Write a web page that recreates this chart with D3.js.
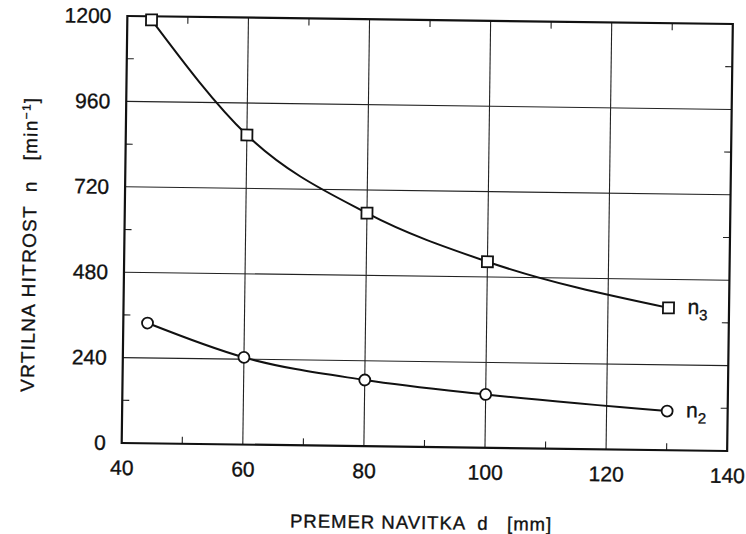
<!DOCTYPE html>
<html>
<head>
<meta charset="utf-8">
<script src="https://cdn.jsdelivr.net/npm/d3@7"></script>
<style>
  body { margin: 0; background: #fff; }
  svg { display: block; }
  text { font-family: 'Liberation Sans', Arial, sans-serif; fill: #111; stroke: #111; stroke-width: 0.35px; }
  .frame { fill: none; stroke: #111; stroke-width: 2.2; }
  .grid line { stroke: #222; stroke-width: 1.1; }
  .curve { fill: none; stroke: #111; stroke-width: 2; }
  .mark { fill: #fff; stroke: #111; stroke-width: 1.8; }
</style>
</head>
<body>
<svg class="chart"></svg>
<script>
const diameters = [44, 60, 80, 100, 130]
const n3 = [1190, 870, 655, 523, 400]
const n2 = [338, 245, 186, 150, 110]
const xTicks = [40, 60, 80, 100, 120, 140]
const xMinor = [50, 70, 90, 110, 130]
const yTicks = [0, 240, 480, 720, 960, 1200]
const yMinor = [120, 360, 600, 840, 1080]

const width = 746
const height = 534
const padding = { top: 20, right: 16, bottom: 87, left: 124.5 }

const svg = d3.select('.chart')
    .attr('width', width)
    .attr('height', height)

// scanned original sits slightly rotated
const root = svg.append('g')
    .attr('transform', 'rotate(0.76, 427, 234)')

const x = d3.scaleLinear()
    .domain([40, 140])
    .range([padding.left, width - padding.right])

const y = d3.scaleLinear()
    .domain([0, 1200])
    .range([height - padding.bottom, padding.top])

const x0 = x.range()[0], x1 = x.range()[1]
const y0 = y.range()[0], y1 = y.range()[1]

// grid lines
const grid = root.append('g').attr('class', 'grid')
grid.selectAll('.gx')
    .data(xTicks.slice(1, -1))
    .enter()
    .append('line')
    .attr('x1', d => x(d)).attr('x2', d => x(d))
    .attr('y1', y1).attr('y2', y0)
grid.selectAll('.gy')
    .data(yTicks.slice(1, -1))
    .enter()
    .append('line')
    .attr('x1', x0).attr('x2', x1)
    .attr('y1', d => y(d)).attr('y2', d => y(d))

// minor ticks inside the frame
const tl = 7
grid.selectAll('.mxb').data(xMinor).enter().append('line')
    .attr('x1', d => x(d)).attr('x2', d => x(d)).attr('y1', y0).attr('y2', y0 - tl)
grid.selectAll('.mxt').data(xMinor).enter().append('line')
    .attr('x1', d => x(d)).attr('x2', d => x(d)).attr('y1', y1).attr('y2', y1 + tl)
grid.selectAll('.myl').data(yMinor).enter().append('line')
    .attr('x1', x0).attr('x2', x0 + tl).attr('y1', d => y(d)).attr('y2', d => y(d))
grid.selectAll('.myr').data(yMinor).enter().append('line')
    .attr('x1', x1).attr('x2', x1 - tl).attr('y1', d => y(d)).attr('y2', d => y(d))

// axes (labels only)
const xAxis = root.append('g')
    .attr('transform', `translate(0, ${y0})`)
    .call(d3.axisBottom(x).tickValues(xTicks).tickSize(0).tickPadding(17).tickFormat(d3.format('d')))
xAxis.select('.domain').remove()

const yAxis = root.append('g')
    .attr('transform', `translate(${x0}, 0)`)
    .call(d3.axisLeft(y).tickValues(yTicks).tickSize(0).tickPadding(16).tickFormat(d3.format('d')))
yAxis.select('.domain').remove()

svg.selectAll('g').attr('font-family', null).attr('font-size', null)
svg.selectAll('.tick text')
    .style('font-size', '21px')
    .style('fill', '#111')

root.append('rect')
    .attr('class', 'frame')
    .attr('x', x0).attr('y', y1)
    .attr('width', x1 - x0).attr('height', y0 - y1)

// curves
const line = d3.line()
    .x(d => x(d[0]))
    .y(d => y(d[1]))
    .curve(d3.curveMonotoneX)

const s3 = diameters.map((d, i) => [d, n3[i]])
const s2 = diameters.map((d, i) => [d, n2[i]])

root.append('path').attr('class', 'curve').attr('d', line(s3))
root.append('path').attr('class', 'curve').attr('d', line(s2))

root.selectAll('.sq')
    .data(s3)
    .enter()
    .append('rect')
    .attr('class', 'mark')
    .attr('x', d => x(d[0]) - 5.5)
    .attr('y', d => y(d[1]) - 5.5)
    .attr('width', 11).attr('height', 11)

root.selectAll('.ci')
    .data(s2)
    .enter()
    .append('circle')
    .attr('class', 'mark')
    .attr('cx', d => x(d[0]))
    .attr('cy', d => y(d[1]))
    .attr('r', 5.5)

// series labels
const seriesLabel = (d, v, sub) => {
    const t = root.append('text')
        .attr('x', x(d) + 19)
        .attr('y', y(v) + 6)
        .style('font-size', '21px')
    t.append('tspan').text('n')
    t.append('tspan').attr('dy', 6).style('font-size', '15px').text(sub)
}
seriesLabel(130, n3[4], '3')
seriesLabel(130, n2[4], '2')

// axis titles
const yt = root.append('text')
    .attr('transform', `translate(36, ${(y0 + y1) / 2 + 16}) rotate(-90)`)
    .attr('text-anchor', 'middle')
    .style('font-size', '19px')
    .style('letter-spacing', '1.3px')
    .style('white-space', 'pre')
yt.append('tspan').text('VRTILNA HITROST  n   [min')
yt.append('tspan').attr('dy', -7).style('font-size', '12px').text('−1')
yt.append('tspan').attr('dy', 7).text(']')

root.append('text')
    .attr('x', 425)
    .attr('y', 529)
    .attr('text-anchor', 'middle')
    .style('font-size', '18.5px')
    .style('letter-spacing', '1px')
    .style('white-space', 'pre')
    .text('PREMER NAVITKA  d   [mm]')
</script>
</body>
</html>
